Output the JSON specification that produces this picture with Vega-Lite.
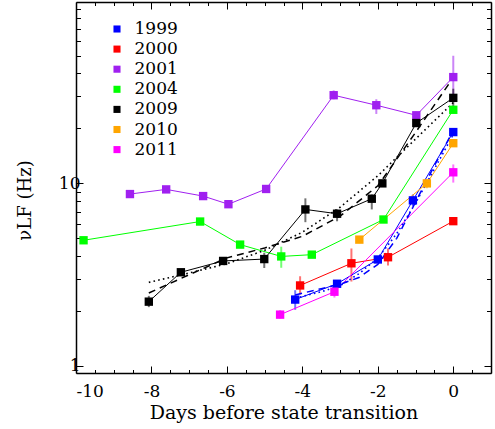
{
  "$schema": "https://vega.github.io/schema/vega-lite/v6.json",
  "width": 415,
  "height": 371,
  "autosize": {"type": "none"},
  "padding": {"left": 76, "top": 2, "right": 4, "bottom": 56},
  "background": "white",
  "config": {
    "view": {"stroke": null},
    "range": {"category": ["#0000ff", "#ff0000", "#a020f0", "#00ff00", "#000000", "#ffa500", "#ff00ff"]},
    "legend": {
      "symbolType": "square",
      "symbolSize": 50,
      "labelFont": "DejaVu Serif",
      "labelFontSize": 17,
      "labelColor": "#000000",
      "labelOffset": 9,
      "rowPadding": 2.1
    },
    "axis": {
      "grid": false,
      "domainColor": "#000000",
      "domainWidth": 1.5,
      "tickColor": "#000000",
      "tickWidth": 1,
      "labelFont": "DejaVu Serif",
      "labelFontSize": 17,
      "labelColor": "#000000",
      "titleFont": "DejaVu Serif",
      "titleFontSize": 17,
      "titleFontWeight": "normal",
      "titleColor": "#000000"
    }
  },
  "data": {
    "values": [
      {"year": "1999", "t": -4.19, "nu": 2.31, "lo": 2.03, "hi": 2.6},
      {"year": "1999", "t": -3.08, "nu": 2.82, "lo": 2.72, "hi": 2.93},
      {"year": "1999", "t": -2.0, "nu": 3.83, "lo": 3.7, "hi": 3.96},
      {"year": "1999", "t": -1.07, "nu": 8.07, "lo": 7.5, "hi": 8.7},
      {"year": "1999", "t": 0, "nu": 19.1, "lo": 18.4, "hi": 19.8},
      {"year": "2000", "t": -4.06, "nu": 2.76, "lo": 2.46, "hi": 3.1},
      {"year": "2000", "t": -2.7, "nu": 3.65, "lo": 2.9, "hi": 4.4},
      {"year": "2000", "t": -1.73, "nu": 3.94, "lo": 3.55, "hi": 4.4},
      {"year": "2000", "t": 0, "nu": 6.21, "lo": 6.0, "hi": 6.4},
      {"year": "2001", "t": -8.57, "nu": 8.74, "lo": 8.5, "hi": 9.0},
      {"year": "2001", "t": -7.61, "nu": 9.27, "lo": 9.0, "hi": 9.55},
      {"year": "2001", "t": -6.63, "nu": 8.52, "lo": 8.25, "hi": 8.8},
      {"year": "2001", "t": -5.96, "nu": 7.69, "lo": 7.45, "hi": 7.95},
      {"year": "2001", "t": -4.96, "nu": 9.32, "lo": 9.0, "hi": 9.65},
      {"year": "2001", "t": -3.17, "nu": 30.4, "lo": 28.9, "hi": 32.3},
      {"year": "2001", "t": -2.04, "nu": 26.8, "lo": 24.0, "hi": 28.9},
      {"year": "2001", "t": -0.98, "nu": 23.6, "lo": 22.5, "hi": 24.7},
      {"year": "2001", "t": 0, "nu": 38.2, "lo": 29, "hi": 50},
      {"year": "2004", "t": -9.8, "nu": 4.88, "lo": 4.75, "hi": 5.0},
      {"year": "2004", "t": -6.71, "nu": 6.18, "lo": 5.95, "hi": 6.45},
      {"year": "2004", "t": -5.65, "nu": 4.62, "lo": 4.5, "hi": 4.75},
      {"year": "2004", "t": -4.56, "nu": 3.98, "lo": 3.45, "hi": 4.5},
      {"year": "2004", "t": -3.75, "nu": 4.07, "lo": 3.95, "hi": 4.2},
      {"year": "2004", "t": -1.85, "nu": 6.34, "lo": 6.15, "hi": 6.55},
      {"year": "2004", "t": 0, "nu": 25.3, "lo": 24.5, "hi": 26.2},
      {"year": "2009", "t": -8.07, "nu": 2.25, "lo": 2.1, "hi": 2.42},
      {"year": "2009", "t": -7.22, "nu": 3.26, "lo": 3.15, "hi": 3.38},
      {"year": "2009", "t": -6.1, "nu": 3.76, "lo": 3.65, "hi": 3.88},
      {"year": "2009", "t": -5.01, "nu": 3.85, "lo": 3.44, "hi": 4.17},
      {"year": "2009", "t": -3.92, "nu": 7.2, "lo": 6.13, "hi": 8.28},
      {"year": "2009", "t": -3.08, "nu": 6.82, "lo": 6.2, "hi": 7.2},
      {"year": "2009", "t": -2.16, "nu": 8.24, "lo": 7.2, "hi": 8.7},
      {"year": "2009", "t": -1.88, "nu": 10.0, "lo": 9.7, "hi": 10.3},
      {"year": "2009", "t": -0.98, "nu": 21.4, "lo": 20.7, "hi": 22.1},
      {"year": "2009", "t": 0, "nu": 29.4, "lo": 26, "hi": 33},
      {"year": "2010", "t": -2.49, "nu": 4.92, "lo": 4.7, "hi": 5.15},
      {"year": "2010", "t": -0.7, "nu": 10.0, "lo": 9.4, "hi": 10.6},
      {"year": "2010", "t": 0, "nu": 16.6, "lo": 16.0, "hi": 17.2},
      {"year": "2011", "t": -4.59, "nu": 1.91, "lo": 1.82, "hi": 2.02},
      {"year": "2011", "t": -3.15, "nu": 2.55, "lo": 2.37, "hi": 2.7},
      {"year": "2011", "t": 0, "nu": 11.5, "lo": 10.1, "hi": 12.7}
    ]
  },
  "layer": [
    {
      "mark": {"type": "rule", "strokeWidth": 2, "opacity": 0.55},
      "encoding": {
        "x": {
          "field": "t", "type": "quantitative",
          "scale": {"domain": [-10, 1], "nice": false, "zero": false},
          "axis": {
            "orient": "bottom",
            "values": [-10, -9.5, -9, -8.5, -8, -7.5, -7, -6.5, -6, -5.5, -5, -4.5, -4, -3.5, -3, -2.5, -2, -1.5, -1, -0.5, 0, 0.5, 1],
            "tickSize": {"condition": {"test": "datum.value % 2 === 0", "value": -7}, "value": -3.5},
            "labelPadding": 17,
            "labelExpr": "datum.value % 2 === 0 ? '' + datum.value : ''",
            "title": "Days before state transition", "titleFontSize": 19,
            "titleX": 207.5, "titleY": 45, "titleBaseline": "alphabetic"
          }
        },
        "y": {
          "field": "lo", "type": "quantitative",
          "scale": {"type": "log", "domain": [0.915, 98.5], "nice": false},
          "axis": {
            "orient": "left",
            "values": [1, 2, 3, 4, 5, 6, 7, 8, 9, 10, 20, 30, 40, 50, 60, 70, 80, 90],
            "tickSize": {"condition": {"test": "datum.value == 1 || datum.value == 10", "value": -7}, "value": -4.5},
            "labelPadding": 3,
            "labelExpr": "datum.value == 1 || datum.value == 10 ? '' + datum.value : ''",
            "title": "νLF (Hz)", "titleFontSize": 18,
            "titleX": -46, "titleY": 198, "titleAngle": 270, "titleBaseline": "alphabetic"
          }
        },
        "y2": {"field": "hi"},
        "stroke": {"field": "year", "type": "nominal", "legend": null}
      }
    },
    {
      "mark": {"type": "line", "strokeWidth": 1},
      "encoding": {
        "x": {
          "field": "t", "type": "quantitative",
          "axis": {
            "orient": "top",
            "values": [-10, -9.5, -9, -8.5, -8, -7.5, -7, -6.5, -6, -5.5, -5, -4.5, -4, -3.5, -3, -2.5, -2, -1.5, -1, -0.5, 0, 0.5, 1],
            "tickSize": {"condition": {"test": "datum.value % 2 === 0", "value": -7}, "value": -3.5},
            "labels": false, "title": null
          }
        },
        "y": {
          "field": "nu", "type": "quantitative",
          "axis": {
            "orient": "right",
            "values": [1, 2, 3, 4, 5, 6, 7, 8, 9, 10, 20, 30, 40, 50, 60, 70, 80, 90],
            "tickSize": {"condition": {"test": "datum.value == 1 || datum.value == 10", "value": -7}, "value": -4.5},
            "labels": false, "title": null
          }
        },
        "stroke": {"field": "year", "type": "nominal", "legend": null}
      }
    },
    {
      "data": {
        "values": [
          {"year": "2009", "model": "fit1", "t": -8.07, "nu": 2.51},
          {"year": "2009", "model": "fit1", "t": -7, "nu": 3.16},
          {"year": "2009", "model": "fit1", "t": -6, "nu": 3.91},
          {"year": "2009", "model": "fit1", "t": -5, "nu": 4.43},
          {"year": "2009", "model": "fit1", "t": -4, "nu": 5.13},
          {"year": "2009", "model": "fit1", "t": -3, "nu": 6.61},
          {"year": "2009", "model": "fit1", "t": -2, "nu": 9.7},
          {"year": "2009", "model": "fit1", "t": -1, "nu": 19},
          {"year": "2009", "model": "fit1", "t": 0, "nu": 38},
          {"year": "2009", "model": "fit2", "t": -8.07, "nu": 2.87},
          {"year": "2009", "model": "fit2", "t": -7, "nu": 3.23},
          {"year": "2009", "model": "fit2", "t": -6, "nu": 3.63},
          {"year": "2009", "model": "fit2", "t": -5, "nu": 4.3},
          {"year": "2009", "model": "fit2", "t": -4, "nu": 5.4},
          {"year": "2009", "model": "fit2", "t": -3, "nu": 7.4},
          {"year": "2009", "model": "fit2", "t": -2, "nu": 11},
          {"year": "2009", "model": "fit2", "t": -1, "nu": 17.5},
          {"year": "2009", "model": "fit2", "t": 0, "nu": 27.7},
          {"year": "1999", "model": "fit1", "t": -4.19, "nu": 2.45},
          {"year": "1999", "model": "fit1", "t": -3.5, "nu": 2.65},
          {"year": "1999", "model": "fit1", "t": -3, "nu": 2.8},
          {"year": "1999", "model": "fit1", "t": -2.5, "nu": 3.05},
          {"year": "1999", "model": "fit1", "t": -2, "nu": 3.6},
          {"year": "1999", "model": "fit1", "t": -1.5, "nu": 5.0},
          {"year": "1999", "model": "fit1", "t": -1, "nu": 7.9},
          {"year": "1999", "model": "fit1", "t": -0.5, "nu": 12.5},
          {"year": "1999", "model": "fit1", "t": 0, "nu": 19.5},
          {"year": "1999", "model": "fit2", "t": -4.19, "nu": 2.35},
          {"year": "1999", "model": "fit2", "t": -3.5, "nu": 2.55},
          {"year": "1999", "model": "fit2", "t": -3, "nu": 2.75},
          {"year": "1999", "model": "fit2", "t": -2.5, "nu": 3.2},
          {"year": "1999", "model": "fit2", "t": -2, "nu": 3.9},
          {"year": "1999", "model": "fit2", "t": -1.5, "nu": 5.3},
          {"year": "1999", "model": "fit2", "t": -1, "nu": 7.8},
          {"year": "1999", "model": "fit2", "t": -0.5, "nu": 12},
          {"year": "1999", "model": "fit2", "t": 0, "nu": 18.5}
        ]
      },
      "layer": [
        {
          "transform": [{"filter": "datum.model == 'fit1'"}],
          "mark": {"type": "line", "strokeWidth": 1.5, "strokeDash": [7, 5]},
          "encoding": {
            "x": {"field": "t", "type": "quantitative", "axis": null},
            "y": {"field": "nu", "type": "quantitative", "axis": null},
            "stroke": {"field": "year", "type": "nominal", "legend": null}
          }
        },
        {
          "transform": [{"filter": "datum.model == 'fit2'"}],
          "mark": {"type": "line", "strokeWidth": 1.6, "strokeDash": [1.6, 3.2]},
          "encoding": {
            "x": {"field": "t", "type": "quantitative", "axis": null},
            "y": {"field": "nu", "type": "quantitative", "axis": null},
            "stroke": {"field": "year", "type": "nominal", "legend": null}
          }
        }
      ]
    },
    {
      "mark": {"type": "square", "size": 70, "opacity": 1},
      "encoding": {
        "x": {"field": "t", "type": "quantitative", "axis": null},
        "y": {"field": "nu", "type": "quantitative", "axis": null},
        "color": {
          "field": "year", "type": "nominal",
          "legend": {"orient": "none", "legendX": 32.5, "legendY": 18.5, "title": null}
        }
      }
    }
  ]
}
